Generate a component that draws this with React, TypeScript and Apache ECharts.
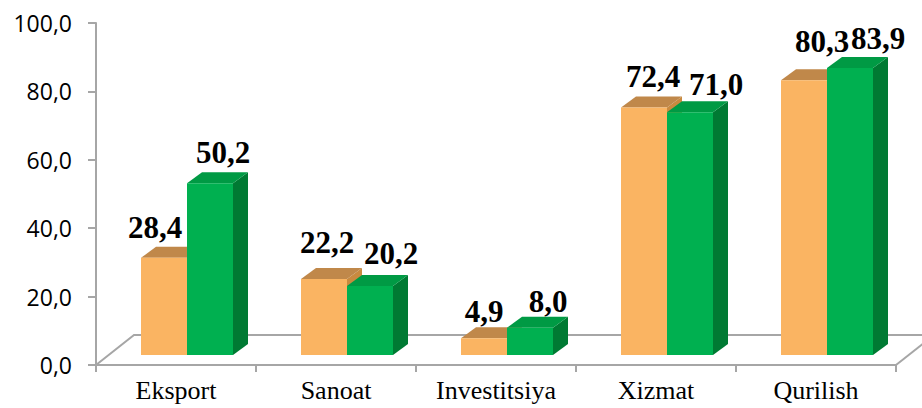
import React, { useEffect, useRef } from "react";
import * as echarts from "echarts";

const categories = ["Eksport", "Sanoat", "Investitsiya", "Xizmat", "Qurilish"];
const seriesA = [28.4, 22.2, 4.9, 72.4, 80.3];
const seriesB = [50.2, 20.2, 8.0, 71.0, 83.9];
const yTicks = { min: 0, max: 100, interval: 20 };

// label nudges relative to each bar's top (px) – placement only
const nudgeA = [[-9, -11], [3, -17], [0, -7], [9, -11], [18, -19]];
const nudgeB = [[13, -11], [21, -13], [18, -7], [26, -8], [28, -10]];

const GRAY = "#A6A6A6";
const FLOOR_DX = 38;
const FLOOR_DY = -30;
const BAR_DX = 15;
const BAR_DY = -11;
const BAR_OFF_X = 11;
const BAR_OFF_Y = -10;
const BAR_W = 46;

const colorsA = { front: "#FAB462", top: "#C0884A", side: "#C98A3F" };
const colorsB = { front: "#00B050", top: "#009A44", side: "#007A33" };

function barGeom(api: any, s: number) {
  const i = api.value(0);
  const v = api.value(1);
  const c = api.coord([i, v]);
  const base = api.coord([i, 0]);
  const pairLeft = base[0] + BAR_OFF_X - BAR_W;
  const x = pairLeft + s * BAR_W;
  const top = c[1] + BAR_OFF_Y;
  const bottom = base[1] + BAR_OFF_Y;
  return { i, v, x, top, bottom };
}

function makeBarSeries(values: number[], s: number, col: any) {
  return {
    type: "custom",
    name: "s" + s,
    data: values.map((v, i) => [i, v]),
    encode: { x: 0, y: 1 },
    z: 3 + s,
    renderItem: (params: any, api: any) => {
      const g = barGeom(api, s);
      const { x, top, bottom } = g;
      return {
        type: "group",
        children: [
          {
            type: "polygon",
            shape: {
              points: [
                [x + BAR_W, top],
                [x + BAR_W + BAR_DX, top + BAR_DY],
                [x + BAR_W + BAR_DX, bottom + BAR_DY],
                [x + BAR_W, bottom],
              ],
            },
            style: { fill: col.side },
          },
          {
            type: "polygon",
            shape: {
              points: [
                [x, top],
                [x + BAR_DX, top + BAR_DY],
                [x + BAR_W + BAR_DX, top + BAR_DY],
                [x + BAR_W, top],
              ],
            },
            style: { fill: col.top },
          },
          {
            type: "rect",
            shape: { x: x, y: top, width: BAR_W, height: bottom - top },
            style: { fill: col.front },
          },
        ],
      };
    },
  };
}

function makeLabelSeries(values: number[], s: number, nudges: number[][]) {
  return {
    type: "custom",
    name: "l" + s,
    data: values.map((v, i) => [i, v]),
    encode: { x: 0, y: 1 },
    z: 10,
    renderItem: (params: any, api: any) => {
      const g = barGeom(api, s);
      const n = nudges[g.i];
      return {
        type: "text",
        style: {
          text: g.v.toFixed(1).replace(".", ","),
          x: g.x + BAR_W / 2 + n[0],
          y: g.top + BAR_DY + n[1] + 7,
          fill: "#000",
          font: 'bold 31px "Liberation Serif"',
          align: "center",
          verticalAlign: "bottom",
        },
      };
    },
  };
}

const floorSeries = {
  type: "custom",
  name: "floor",
  data: [[0, 0]],
  encode: { x: 0, y: 1 },
  z: 1,
  silent: true,
  renderItem: (params: any, api: any) => {
    const band = api.size([1, 0])[0];
    const p0 = api.coord([0, 0]);
    const p1 = api.coord([categories.length - 1, 0]);
    const x0 = p0[0] - band / 2;
    const x1 = p1[0] + band / 2;
    const y0 = p0[1];
    const st = { stroke: GRAY, lineWidth: 2, fill: null };
    return {
      type: "group",
      children: [
        {
          type: "polyline",
          shape: {
            points: [
              [x0, y0],
              [x0 + FLOOR_DX, y0 + FLOOR_DY],
              [x1 + FLOOR_DX, y0 + FLOOR_DY],
            ],
          },
          style: st,
        },
        {
          type: "line",
          shape: { x1: x1, y1: y0, x2: x1 + FLOOR_DX, y2: y0 + FLOOR_DY },
          style: st,
        },
      ],
    };
  },
};

export default function App() {
  const ref = useRef<HTMLDivElement>(null);
  useEffect(() => {
    if (!ref.current) return;
    const chart = echarts.init(ref.current, null, { renderer: "svg" });
    chart.setOption({
      animation: false,
      backgroundColor: "#fff",
      grid: {
        left: 96,
        right: 26,
        top: 23,
        bottom: 43,
        containLabel: false,
        outerBoundsMode: "none",
      },
      xAxis: {
        type: "category",
        data: categories,
        axisLine: { show: true, lineStyle: { color: GRAY, width: 2 } },
        axisTick: { show: true, length: 7, lineStyle: { color: GRAY, width: 2 } },
        axisLabel: {
          color: "#000",
          fontFamily: '"Liberation Serif", "Times New Roman", serif',
          fontSize: 26,
          margin: 12,
          interval: 0,
          hideOverlap: false,
        },
      },
      yAxis: {
        type: "value",
        min: yTicks.min,
        max: yTicks.max,
        interval: yTicks.interval,
        splitLine: { show: false },
        axisLine: { show: true, lineStyle: { color: GRAY, width: 2 } },
        axisTick: { show: true, length: 8, lineStyle: { color: GRAY, width: 2 } },
        axisLabel: {
          color: "#000",
          fontFamily: '"Open Sans", sans-serif',
          fontSize: 23,
          margin: 24,
          formatter: (v: number) => v.toFixed(1).replace(".", ","),
        },
      },
      series: [
        floorSeries,
        makeBarSeries(seriesA, 0, colorsA),
        makeBarSeries(seriesB, 1, colorsB),
        makeLabelSeries(seriesA, 0, nudgeA),
        makeLabelSeries(seriesB, 1, nudgeB),
      ],
    });
    return () => chart.dispose();
  }, []);
  return (
    <div
      ref={ref}
      style={{ position: "fixed", left: 0, top: 0, width: 922, height: 408 }}
    />
  );
}
